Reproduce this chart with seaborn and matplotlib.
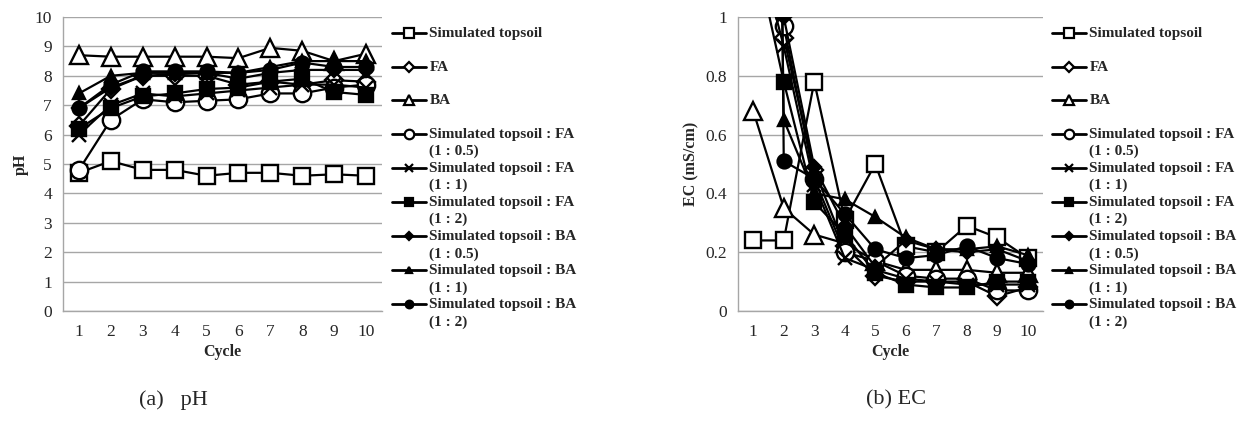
import matplotlib

matplotlib.use("Agg")
import matplotlib.pyplot as plt
from matplotlib.lines import Line2D
import pandas as pd
import seaborn as sns

# ---- data ----
cycles = [1, 2, 3, 4, 5, 6, 7, 8, 9, 10]

series_names = [
    "Simulated topsoil",
    "FA",
    "BA",
    "Simulated topsoil : FA\n(1 : 0.5)",
    "Simulated topsoil : FA\n(1 : 1)",
    "Simulated topsoil : FA\n(1 : 2)",
    "Simulated topsoil : BA\n(1 : 0.5)",
    "Simulated topsoil : BA\n(1 : 1)",
    "Simulated topsoil : BA\n(1 : 2)",
]

ph_topsoil = [4.70, 5.10, 4.80, 4.80, 4.60, 4.70, 4.70, 4.60, 4.65, 4.60]
ph_fa = [6.30, 7.55, 8.00, 8.00, 8.00, 7.70, 7.80, 7.70, 7.85, 7.80]
ph_ba = [8.70, 8.65, 8.65, 8.65, 8.65, 8.60, 8.95, 8.85, 8.50, 8.75]
ph_fa_05 = [4.80, 6.50, 7.20, 7.10, 7.15, 7.20, 7.40, 7.40, 7.60, 7.70]
ph_fa_1 = [6.00, 7.00, 7.40, 7.30, 7.40, 7.50, 7.60, 7.70, 7.70, 7.60]
ph_fa_2 = [6.20, 6.90, 7.30, 7.40, 7.55, 7.60, 7.80, 7.90, 7.45, 7.35]
ph_ba_05 = [6.90, 7.60, 8.00, 8.05, 8.10, 7.90, 8.10, 8.20, 8.20, 8.20]
ph_ba_1 = [7.40, 8.00, 8.10, 8.10, 8.10, 8.10, 8.30, 8.50, 8.50, 8.50]
ph_ba_2 = [6.90, 7.70, 8.15, 8.15, 8.15, 8.10, 8.20, 8.45, 8.30, 8.30]

# cycle-1 EC of most mixtures is above the 0-1 window (clipped in the original)
ec_topsoil = [0.24, 0.24, 0.78, 0.31, 0.50, 0.22, 0.20, 0.29, 0.25, 0.18]
ec_fa = [1.20, 0.93, 0.48, 0.22, 0.12, 0.10, 0.10, 0.10, 0.05, 0.08]
ec_ba = [0.68, 0.35, 0.26, 0.23, 0.17, 0.14, 0.14, 0.14, 0.13, 0.13]
ec_fa_05 = [1.20, 0.97, 0.45, 0.20, 0.17, 0.12, 0.11, 0.11, 0.07, 0.07]
ec_fa_1 = [1.30, 0.90, 0.43, 0.18, 0.14, 0.11, 0.10, 0.09, 0.09, 0.09]
ec_fa_2 = [1.25, 0.78, 0.37, 0.26, 0.13, 0.09, 0.08, 0.08, 0.10, 0.10]
ec_ba_05 = [1.60, 1.00, 0.49, 0.29, 0.15, 0.24, 0.21, 0.20, 0.21, 0.17]
ec_ba_1 = [7.50, 0.65, 0.40, 0.38, 0.32, 0.25, 0.21, 0.21, 0.22, 0.19]
ec_ba_2 = [12.0, 0.51, 0.45, 0.33, 0.21, 0.18, 0.19, 0.22, 0.18, 0.16]

ph_values = [ph_topsoil, ph_fa, ph_ba, ph_fa_05, ph_fa_1, ph_fa_2,
             ph_ba_05, ph_ba_1, ph_ba_2]
ec_values = [ec_topsoil, ec_fa, ec_ba, ec_fa_05, ec_fa_1, ec_fa_2,
             ec_ba_05, ec_ba_1, ec_ba_2]

# marker, size on plot, face colour
marker_styles = [
    ("s", 12.0, "white"),
    ("D", 9.5, "white"),
    ("^", 12.5, "white"),
    ("o", 12.5, "white"),
    ("x", 10.0, "black"),
    ("s", 10.0, "black"),
    ("D", 7.0, "black"),
    ("^", 9.0, "black"),
    ("o", 10.0, "black"),
]

GRID = "#a6a6a6"

sns.set_style("white")
plt.rcParams["font.family"] = ["Liberation Serif", "DejaVu Serif"]

fig = plt.figure(figsize=(12.42, 4.23), dpi=100)
ax_ph = fig.add_axes([63 / 1242, 1 - 311 / 423, 319 / 1242, 294 / 423])
ax_ec = fig.add_axes([738 / 1242, 1 - 311 / 423, 305 / 1242, 294 / 423])


def draw_panel(ax, values, ylim, yticks, ylabel):
    for vals, (mk, ms, fc) in zip(values, marker_styles):
        df = pd.DataFrame({"cycle": cycles, "value": vals})
        sns.lineplot(data=df, x="cycle", y="value", ax=ax, color="black",
                     lw=1.6, marker=mk, markersize=ms, markerfacecolor=fc,
                     markeredgecolor="black", markeredgewidth=1.7,
                     legend=False)
    ax.set_xlim(0.5, 10.5)
    ax.set_ylim(*ylim)
    ax.set_yticks(yticks)
    ax.set_yticklabels([f"{v:g}" for v in yticks], fontsize=12.5)
    ax.set_xticks(cycles)
    ax.set_xticklabels([str(c) for c in cycles], fontsize=12.5)
    ax.set_xticks([c - 0.5 for c in cycles] + [10.5], minor=True)
    ax.tick_params(axis="x", which="major", length=0, pad=9)
    ax.tick_params(axis="x", which="minor", length=5, width=1, color=GRID,
                   direction="out")
    ax.tick_params(axis="y", length=4, width=1, color=GRID, direction="out",
                   pad=4)
    ax.yaxis.grid(True, color=GRID, lw=1)
    ax.set_axisbelow(True)
    for side in ("top", "right"):
        ax.spines[side].set_visible(False)
    for side in ("left", "bottom"):
        ax.spines[side].set_color(GRID)
        ax.spines[side].set_linewidth(1)
    ax.set_xlabel("Cycle", fontsize=11.5, fontweight="bold", labelpad=3)
    ax.set_ylabel(ylabel, fontsize=11.5, fontweight="bold", labelpad=4)


draw_panel(ax_ph, ph_values, (0, 10), list(range(0, 11)), "pH")
draw_panel(ax_ec, ec_values, (0, 1), [0, 0.2, 0.4, 0.6, 0.8, 1.0],
           "EC (mS/cm)")


def add_legend(ax, x_px):
    handles = []
    for mk, ms, fc in marker_styles:
        handles.append(Line2D([], [], color="black", lw=2, marker=mk,
                              markersize=ms * 0.55, markerfacecolor=fc,
                              markeredgecolor="black", markeredgewidth=1.6))
    labels = [n if "\n" in n else n + "\n " for n in series_names]
    leg = ax.legend(handles, labels, loc="upper left",
                    bbox_to_anchor=(x_px / 1242, 1 - 27 / 423),
                    bbox_transform=fig.transFigure, frameon=False,
                    borderpad=0, borderaxespad=0, handlelength=2.2,
                    handletextpad=0.25, labelspacing=0.23, handleheight=1.0,
                    prop={"weight": "bold", "size": 11,
                          "family": "Liberation Serif"})
    for t in leg.get_texts():
        t.set_linespacing(1.4)
    for hp in leg._legend_handle_box.get_children()[0].get_children():
        hp.align = "top"
    return leg


add_legend(ax_ph, 392)
add_legend(ax_ec, 1052)

fig.text(173 / 1242, 1 - 400 / 423, "(a)   pH", ha="center", va="center",
         fontsize=16)
fig.text(896 / 1242, 1 - 400 / 423, "(b) EC", ha="center", va="center",
         fontsize=16)

fig.savefig("out.png", dpi=100)
